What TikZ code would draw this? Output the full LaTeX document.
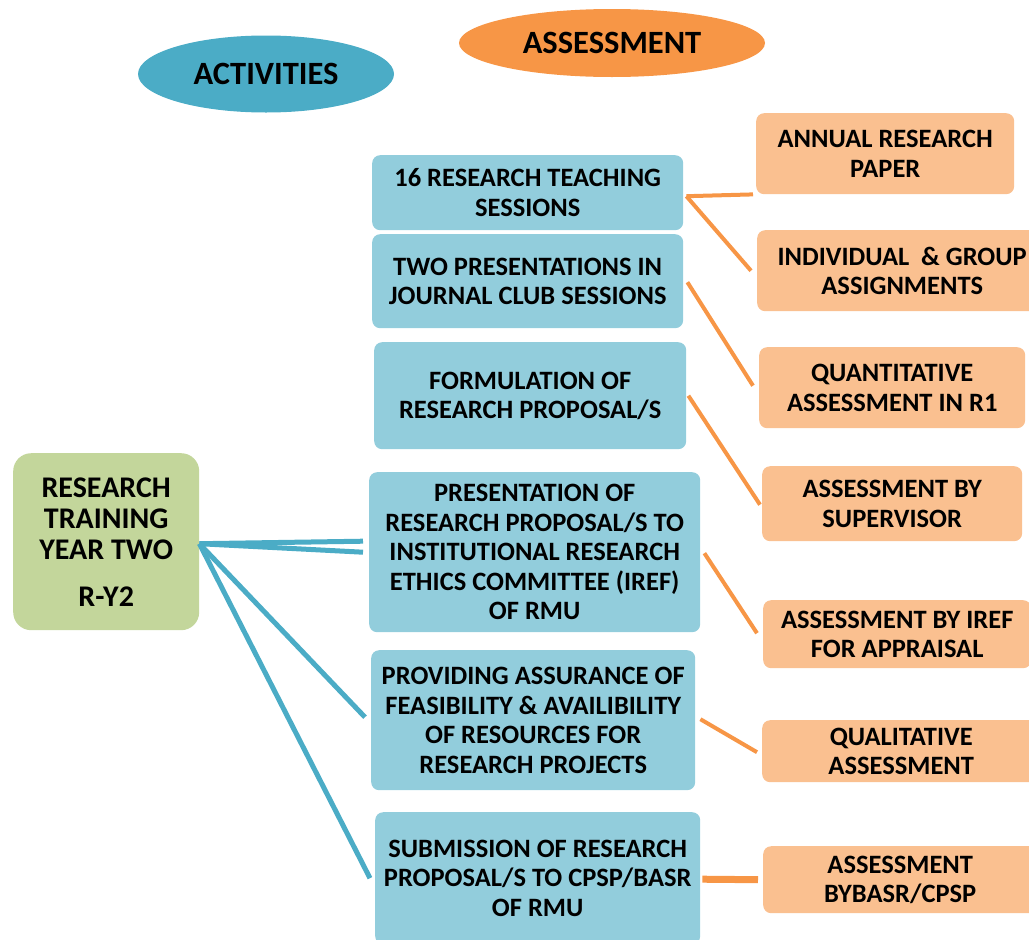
\documentclass[tikz,border=0pt]{standalone}
\usepackage{fontspec}
\setmainfont{Carlito}
\usetikzlibrary{shapes.geometric}
\definecolor{headblue}{HTML}{4BACC6}
\definecolor{headorange}{HTML}{F79646}
\definecolor{actfill}{HTML}{92CDDC}
\definecolor{assfill}{HTML}{FAC090}
\definecolor{rootfill}{HTML}{C3D69B}
\tikzset{
  box/.style={rectangle, rounded corners=8pt, anchor=north west, inner sep=0pt,
    align=center, font=\fontsize{26.5}{29.5}\selectfont\bfseries},
  actbox/.style={box, fill=actfill},
  assbox/.style={box, fill=assfill},
  rootbox/.style={box, fill=rootfill, rounded corners=18pt,
    font=\fontsize{30}{31}\selectfont\bfseries},
  head/.style={ellipse, inner sep=0pt, font=\fontsize{32.5}{32.5}\selectfont\bfseries},
  bline/.style={draw=headblue, line width=5pt},
  oline/.style={draw=headorange, line width=4pt},
}
\begin{document}
\begin{tikzpicture}[x=1pt,y=-1pt]
\useasboundingbox (0,0) rectangle (1029,940);

% column headings
\node[head, fill=headblue, minimum width=256pt, minimum height=77pt] (hact) at (266,74) {ACTIVITIES};
\node[head, fill=headorange, minimum width=306pt, minimum height=68pt] (hass) at (612,43) {ASSESSMENT};

% root
\node[rootbox, minimum width=186pt, minimum height=177pt] (root) at (13,453)
  {RESEARCH\\TRAINING\\YEAR TWO\\[16pt]R-Y2};

% activities
\node[actbox, minimum width=311pt, minimum height=75pt] (b1) at (372,155) {16 RESEARCH TEACHING\\SESSIONS};
\node[actbox, minimum width=311pt, minimum height=94pt] (b2) at (372,234) {TWO PRESENTATIONS IN\\JOURNAL CLUB SESSIONS};
\node[actbox, minimum width=312pt, minimum height=107pt] (b3) at (374,342) {FORMULATION OF\\RESEARCH PROPOSAL/S};
\node[actbox, minimum width=331pt, minimum height=160pt] (b4) at (369,472) {PRESENTATION OF\\RESEARCH PROPOSAL/S TO\\INSTITUTIONAL RESEARCH\\ETHICS COMMITTEE (IREF)\\OF RMU};
\node[actbox, minimum width=324pt, minimum height=140pt] (b5) at (371,650) {PROVIDING ASSURANCE OF\\FEASIBILITY \& AVAILIBILITY\\OF RESOURCES FOR\\RESEARCH PROJECTS};
\node[actbox, minimum width=325pt, minimum height=132pt] (b6) at (375,812) {SUBMISSION OF RESEARCH\\PROPOSAL/S TO CPSP/BASR\\OF RMU};

% assessments
\node[assbox, minimum width=258pt, minimum height=81pt] (a1) at (756,113) {ANNUAL RESEARCH\\PAPER};
\node[assbox, minimum width=290pt, minimum height=81pt] (a2) at (757,230) {INDIVIDUAL\ \ \& GROUP\\ASSIGNMENTS};
\node[assbox, minimum width=266pt, minimum height=81pt] (a3) at (759,347) {QUANTITATIVE\\ASSESSMENT IN R1};
\node[assbox, minimum width=260pt, minimum height=75pt] (a4) at (762,466) {ASSESSMENT BY\\SUPERVISOR};
\node[assbox, minimum width=268pt, minimum height=68pt] (a5) at (763,600) {ASSESSMENT BY IREF\\FOR APPRAISAL};
\node[assbox, minimum width=278pt, minimum height=62pt] (a6) at (762,720) {QUALITATIVE\\ASSESSMENT};
\node[assbox, minimum width=274pt, minimum height=67pt] (a7) at (763,846) {ASSESSMENT\\BYBASR/CPSP};

% root to activities
\draw[bline] ([shift={(0,2)}]root.east) -- ([shift={(-6,-11)}]b4.west);
\draw[bline] ([shift={(0,2)}]root.east) -- ([shift={(-6,0)}]b4.west);
\draw[bline] ([shift={(0,2)}]root.east) -- ([shift={(-6,-3)}]b5.west);
\draw[bline] ([shift={(0,2)}]root.east) -- ([shift={(-5,0)}]b6.west);

% activities to assessments
\draw[oline] ([shift={(3,3.5)}]b1.east) -- ([shift={(-3,0)}]a1.south west);
\draw[oline] ([shift={(3,3.5)}]b1.east) -- ([shift={(-6,0)}]a2.west);
\draw[oline] ([shift={(4,1)}]b2.east) -- ([shift={(-6,-2)}]a3.west);
\draw[oline] ([shift={(2,0)}]b3.east) -- ([shift={(-2,1)}]a4.west);
\draw[oline] ([shift={(4,1)}]b4.east) -- ([shift={(-6,-1)}]a5.west);
\draw[oline] ([shift={(5,-1)}]b5.east) -- ([shift={(-5,1)}]a6.west);
\draw[oline, line width=7pt] ([shift={(2,1)}]b6.east) -- ([shift={(-5,0)}]a7.west);
\end{tikzpicture}
\end{document}
